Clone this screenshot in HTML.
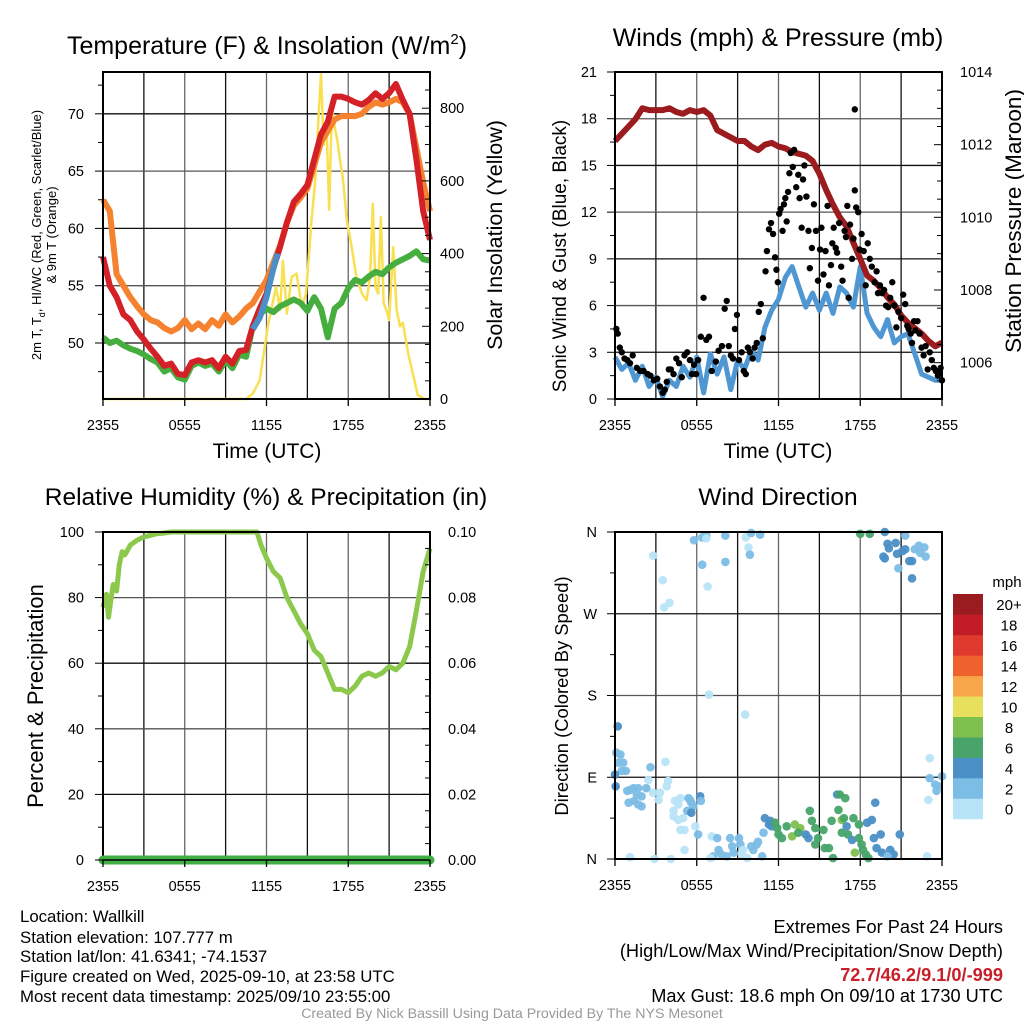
<!DOCTYPE html>
<html><head><meta charset="utf-8">
<style>
html,body{margin:0;padding:0;background:#fff;}
svg{display:block;font-family:"Liberation Sans",Arial,sans-serif;}
</style></head>
<body>
<svg id="fig" width="1024" height="1024" viewBox="0 0 1024 1024" xmlns="http://www.w3.org/2000/svg"></svg>
<script>
// ---------- DATA ----------
const halfHours = [0,0.5,1,1.5,2,2.5,3,3.5,4,4.5,5,5.5,6,6.5,7,7.5,8,8.5,9,9.5,10,10.5,11,11.5,12,12.5,13,13.5,14,14.5,15,15.5,16,16.5,17,17.5,18,18.5,19,19.5,20,20.5,21,21.5,22,22.5,23,23.5,24];
const temp2m = [57.5,55,54,52.5,52,51,50.3,49.5,48.8,48,48.2,47.3,47.2,48.3,48.5,48.3,48.5,47.8,48.8,48.2,49.3,49.4,51.5,53,54.3,56.5,58.4,60.5,62.3,63,63.8,66,68.2,69.3,71.5,71.5,71.3,71,70.8,71.2,71.8,71.3,71.8,72.6,71.2,70,66,61.5,59];
const temp9m = [62.5,61.5,56,55,54,53.2,52.5,52,51.8,51.3,51,51.3,52,51.2,51.7,51.2,52,51.5,52.5,51.8,52.3,53,53.5,54.5,55.5,57,58.5,60.5,62,62.7,63.5,65.5,67.5,68.5,69.5,69.8,69.8,69.8,70,70.6,71,70.8,71,71.3,71,70,67,64,61.5];
const dewpoint = [50.5,50,50.2,49.8,49.5,49.3,49,48.6,48.3,47.5,47.8,47,46.8,48,48.3,48,48.2,47.5,48.5,47.8,49,48.8,51.5,52.5,53,52.7,53.2,53.5,53.8,53.5,52.8,54,53,50.5,53,53.5,54.8,55.5,55.3,55.8,56.2,56,56.6,57,57.3,57.6,58,57.3,57.2];
const hiwcHours = [11,11.5,12,12.5,12.8];
const hiwcValues = [51.2,52.2,54,56.5,57.8];
const solarHours = [0,10.5,11,11.5,11.9,12.1,12.5,12.7,13,13.2,13.5,13.85,14.2,14.6,14.9,15.3,15.6,15.8,16,16.2,16.4,16.6,16.8,17,17.2,17.4,17.6,17.9,18.25,18.6,19,19.35,19.6,19.8,20,20.2,20.4,20.6,20.8,21,21.3,21.55,21.8,22,22.4,22.8,23.1,23.6,24];
const solarValues = [0,0,15,52,150,200,272,308,245,380,235,336,345,253,290,490,610,765,895,700,765,520,800,750,710,655,610,490,418,336,290,272,336,537,308,290,500,263,245,217,418,245,200,210,125,60,11,0,0];
const windSpeed = [2.7,1.9,2.3,1.2,2.1,0.8,1.4,0.15,1.2,0.8,2.1,1.4,2.7,0.4,2.9,1.6,2.7,0.6,2.5,1.9,3.1,2.5,4.6,5.7,6.4,7.8,8.5,7.2,5.9,6.8,5.7,6.8,5.5,7.2,6.8,5.9,8.5,5.5,4.6,4.0,5.1,3.6,4.0,4.2,2.9,1.6,1.4,1.2,1.2];
const pressure = [1012.1,1012.3,1012.5,1012.7,1013.0,1012.95,1012.95,1012.95,1013.0,1012.9,1012.85,1012.95,1012.9,1012.95,1012.8,1012.4,1012.3,1012.2,1012.1,1012.1,1011.95,1011.85,1012.0,1012.05,1011.95,1011.9,1011.8,1011.75,1011.7,1011.55,1011.2,1010.75,1010.35,1010.0,1009.75,1009.3,1008.85,1008.4,1008.25,1008.05,1007.8,1007.6,1007.3,1007.1,1006.95,1006.8,1006.6,1006.45,1006.55];
const gustHours = [0.1,0.2,0.35,0.5,0.7,0.9,1.1,1.3,1.6,1.85,2.1,2.4,2.6,2.85,3.1,3.3,3.5,3.65,3.8,3.95,4.1,4.3,4.5,4.7,4.9,5.1,5.3,5.5,5.65,5.8,5.95,6.1,6.3,6.5,6.7,6.9,7.1,7.4,7.6,7.85,8.05,8.2,8.35,8.5,8.65,8.8,8.95,9.1,9.3,9.45,9.6,9.75,9.9,10.1,10.25,10.4,10.55,10.7,10.85,11.05,11.15,11.3,11.45,11.6,11.75,11.85,11.95,12.05,12.15,12.3,12.4,12.5,12.6,12.7,12.8,12.9,13.05,13.15,13.3,13.45,13.55,13.7,13.8,13.9,14.05,14.2,14.3,14.45,14.6,14.75,14.9,15.05,15.15,15.3,15.45,15.6,15.7,15.85,15.95,16.05,16.2,16.3,16.45,16.6,16.7,16.85,16.95,17.05,17.15,17.25,17.4,17.5,17.6,17.7,17.85,17.95,17.6,18.1,18.25,18.4,18.55,18.7,18.85,19.05,19.2,19.3,19.45,19.6,19.75,19.9,20.05,20.2,20.35,20.5,20.65,20.8,21.0,21.15,21.3,21.45,21.55,21.7,21.8,21.95,22.05,22.2,22.35,22.5,22.65,22.8,22.95,23.1,23.25,23.4,23.55,23.7,23.8,23.9,24.0];
const gustValues = [4.5,4.2,3.3,3.0,2.6,2.5,2.3,2.8,2.0,1.8,1.8,1.6,1.5,1.2,1.3,0.8,0.4,0.6,1.1,1.9,1.9,1.6,2.6,2.3,1.4,2.8,3.0,2.5,1.6,2.2,1.6,2.5,4.0,6.5,3.8,4.0,1.8,2.4,3.1,3.4,5.8,6.3,3.4,2.8,2.6,4.5,5.4,2.5,3.0,1.8,1.6,3.3,3.0,2.6,3.3,3.6,5.6,6.1,3.9,8.2,9.5,10.9,11.3,10.6,9.1,8.3,7.5,11.9,12.2,10.8,12.5,12.9,11.4,13.3,14.5,15.8,14.9,16.0,13.6,14.4,12.9,11.0,14.1,15.0,13.0,10.8,8.4,9.7,12.5,10.8,7.6,9.6,11.0,8.0,9.5,12.4,7.3,8.6,10.0,11.0,9.7,9.4,11.3,8.5,7.6,10.8,10.4,12.4,6.5,11.2,9.0,10.3,13.4,12.3,12.0,9.6,18.6,10.6,9.5,7.3,10.0,9.0,8.5,7.5,8.2,6.8,7.3,6.8,7.0,6.0,5.9,6.5,7.5,6.0,4.6,5.6,5.2,6.7,6.1,4.7,4.5,4.2,3.6,5.0,4.4,5.0,4.2,3.3,2.8,3.4,1.9,3.0,2.5,2.0,1.8,1.5,1.7,2.0,1.2];
const rhHours = [0,0.25,0.4,0.6,0.75,1,1.2,1.4,1.6,2,2.5,3,3.5,4,4.5,5,11,11.3,11.6,12,12.5,13,13.5,14,14.5,15,15.5,16,16.5,17,17.5,18,18.5,19,19.5,20,20.5,21,21.5,22,22.5,23,23.5,24];
const rhValues = [77,81,74,80,84,82,90,94,93,96,97.5,98.5,99,99.5,99.7,100,100,100,96,92,88,86,80,76,72,69,64,62,57,52,52,51,53,56,57,56,57,59,58,60,65,76,88,95];
const precipHours = [0,24];
const precipValues = [0,0];
const dirHours = [2.8,3.5,4.0,3.6,5.8,6.4,6.7,6.7,6.4,6.8,8.1,8.1,9.6,10.0,10.65,9.8,9.9,18.0,18.7,19.8,20.0,20.6,20.7,19.8,19.7,20.1,21.1,21.3,21.6,21.8,21.8,20.8,22.3,22.4,22.7,22.8,22.0,21.3,6.9,9.55,0.2,0.1,0.4,0.25,0.6,0.5,0.8,0,0.05,0.9,1.1,1.35,1.7,1.6,1.95,1.4,1.0,1.7,1.95,2.3,2.6,2.45,2.8,3.3,3.2,3.7,3.9,3.8,4.4,4.8,4.65,4.3,4.3,4.65,5.0,4.8,5.1,5.3,5.5,5.4,5.6,5.75,5.6,6.25,6.3,5.9,6.1,5.1,7.1,7.5,7.6,7.2,7.0,7.8,8.2,8.45,8.6,8.7,9.1,9.2,9.4,9.3,9.7,10.0,10.15,10.4,10.5,10.8,10.9,1.1,2.9,4.1,11.0,11.4,11.3,11.5,11.75,11.9,12.0,12.25,12.6,13.0,13.2,13.6,13.45,14.0,14.2,14.3,14.45,14.7,14.7,14.9,15.3,15.4,15.7,15.9,16.0,16.3,16.5,16.9,16.4,16.65,16.8,16.65,17.0,17.1,17.4,17.5,17.6,17.9,17.9,18.1,18.2,18.4,18.6,18.5,18.85,19.1,19.0,19.5,19.2,19.6,20.2,20.45,20.0,20.9,22.9,23.0,23.1,23.1,23.5,23.75,23.6,24.0];
const dirDegrees = [334,307,282,277,351,354,356,353,324,300,356,327,354,359,357,343,335,358,358,360,347,348,336,331,333,342,339,356,328,328,309,320,345,337,343,333,341,341,181,159,146,117,115,106,106,97,97,93,80,75,76,78,78,71,69,64,62,60,58,78,101,87,73,73,65,107,86,80,64,67,60,53,47,43,45,32,32,53,65,67,62,58,51,69,64,36,27,10,25,23,10,3,1,5,3,23,14,7,23,16,10,5,1,14,10,16,19,3,29,2,0,0,45,42,38,36,40,34,27,23,36,25,38,34,29,27,23,53,42,34,16,23,32,12,12,42,1,71,71,67,54,43,45,29,36,27,21,45,7,38,23,16,10,5,1,40,43,62,23,27,12,7,10,5,3,27,3,65,111,89,82,80,75,91];
const dirSpeeds = [1,1,1,1,3,3,3,1,2.5,1,3,3,1,3,3,1,3,7,7,5,5,5,5,5,5,5,5,3,5,5,5,3,3,3,3,3,3,5,1,1,4.5,3,3,3,3,3,3,5,5,3,3,3,3,3,3,3,3,3,3,3,3,1,1,1,1,1,1,1,1,1,1,1,1,1,1,1,1,3,3,3,3,3,5,5,3,1,3,1,1,3,3,3,1,3,3,3,3,3,3,3,1,1,1,3,3,3,3,3,3,1,1,1,5,5,5,5,7,7,7,7,7,9,9,9,7,5,5,7,7,7,7,7,7,7,7,7,7,5,7,7,7,9,7,7,5,7,5,7,9,7,7,7,7,7,7,5,5,5,5,5,5,5,5,5,3,5,1,1,1,3,3,3,3,3];
const speedColors = ["#b8e4f8","#7cbde6","#4a8fc6","#48a46a","#7ec04e","#e6e05c","#f8a64a","#f0622d","#e03a2e","#c21d27","#9b1c20"];
const speedLabels = ["0","2","4","6","8","10","12","14","16","18","20+"];
const timeTickHours = [0,6,12,18,24];
const timeTickLabels = ["2355","0555","1155","1755","2355"];
const tempTicks = [50,55,60,65,70];
const solarTicks = [0,200,400,600,800];
const windTicks = [0,3,6,9,12,15,18,21];
const pressTicks = [1006,1008,1010,1012,1014];
const rhTicks = [0,20,40,60,80,100];
const precipTicks = [0,0.02,0.04,0.06,0.08,0.10];
const dirTickDeg = [0,90,180,270,360];
const dirTickLabels = ["N","E","S","W","N"];

// ---------- HELPERS ----------
const NS = "http://www.w3.org/2000/svg";
const svg = document.getElementById('fig');
function mk(tag, attrs, parent){
  const e = document.createElementNS(NS, tag);
  for (const k in attrs) e.setAttribute(k, attrs[k]);
  (parent||svg).appendChild(e);
  return e;
}
function lin(d0,d1,r0,r1){ return v => r0 + (v-d0)*(r1-r0)/(d1-d0); }
function txt(x,y,s,size,anchor,extra){
  const t = mk('text', Object.assign({x:x,y:y,'font-size':size,'text-anchor':anchor||'middle',fill:'#000'}, extra||{}));
  t.textContent = s;
  return t;
}
function pathFrom(xs, ys, sx, sy){
  let d='';
  for(let i=0;i<xs.length;i++){ d += (i?'L':'M') + sx(xs[i]).toFixed(1) + ',' + sy(ys[i]).toFixed(1); }
  return d;
}
function panelFrame(x0,x1,y0,y1){
  const g = mk('g',{});
  for(let h=3; h<24; h+=3){
    const X = x0 + (x1-x0)*h/24;
    mk('line',{x1:X,x2:X,y1:y0,y2:y1,stroke:(h%6===0)?'#666':'#111','stroke-width':1.3},g);
  }
  return g;
}
function hGrid(g, ys, x0, x1){
  ys.forEach((Y,i)=>mk('line',{x1:x0,x2:x1,y1:Y,y2:Y,stroke:(i%2)?'#555':'#111','stroke-width':1.3},g));
}
function border(x0,x1,y0,y1){
  mk('rect',{x:x0,y:y0,width:x1-x0,height:y1-y0,fill:'none',stroke:'#000','stroke-width':2});
}
function xTicks(sx, y1){
  timeTickHours.forEach((h,i)=>{
    mk('line',{x1:sx(h),x2:sx(h),y1:y1,y2:y1+7,stroke:'#000','stroke-width':1.3});
    const t = txt(sx(h), y1+31, timeTickLabels[i], 14.5);
    
    
  });
}

// ===== PANEL 1: Temperature =====
(function(){
  const x0=103,x1=430,y0=72,y1=399;
  const sx = lin(0,24,x0,x1);
  const sy = lin(50,70,343,113.8);
  const ss = lin(0,800,399,108.2);
  const g = panelFrame(x0,x1,y0,y1);
  
  
  hGrid(g, tempTicks.map(sy), x0, x1);
  const s = mk('path',{d:pathFrom(solarHours,solarValues,sx,ss),fill:'none',stroke:'#f8e050','stroke-width':2.5,'stroke-linejoin':'round'});
  
  
  const o = mk('path',{d:pathFrom(halfHours,temp9m,sx,sy),fill:'none',stroke:'#f5822e','stroke-width':6,'stroke-linejoin':'round'});
  
  
  const gr = mk('path',{d:pathFrom(halfHours,dewpoint,sx,sy),fill:'none',stroke:'#45ae3e','stroke-width':6,'stroke-linejoin':'round'});
  
  
  const r = mk('path',{d:pathFrom(halfHours,temp2m,sx,sy),fill:'none',stroke:'#d42127','stroke-width':6,'stroke-linejoin':'round'});
  
  
  const b = mk('path',{d:pathFrom(hiwcHours,hiwcValues,sx,sy),fill:'none',stroke:'#4a8fc6','stroke-width':6,'stroke-linejoin':'round'});
  
  
  border(x0,x1,y0,y1);
  for(let v=47.5; v<=72.5; v+=2.5){
    const major = tempTicks.indexOf(v)>=0;
    mk('line',{x1:x0-(major?8:5),x2:x0,y1:sy(v),y2:sy(v),stroke:'#000','stroke-width':1});
  }
  tempTicks.forEach(v=>{
    const t = txt(84, sy(v)+5, String(v), 14.5, 'end');
    
    
  });
  for(let v=0; v<=900; v+=50){
    const major = v%200===0;
    mk('line',{x1:x1,x2:x1+(major?-8:-5),y1:ss(v),y2:ss(v),stroke:'#000','stroke-width':1});
  }
  solarTicks.forEach(v=>{
    const t = txt(440, ss(v)+5, String(v), 14.5, 'start');
    
    
  });
  xTicks(sx,y1);
})();

// ===== PANEL 2: Winds =====
(function(){
  const x0=615,x1=942,y0=72,y1=399;
  const sx = lin(0,24,x0,x1);
  const sy = lin(0,21,399,72);
  const sp = lin(1005,1014,399,72);
  const g = panelFrame(x0,x1,y0,y1);
  
  
  hGrid(g, windTicks.slice(1,7).map(sy), x0, x1);
  const w = mk('path',{d:pathFrom(halfHours,windSpeed,sx,sy),fill:'none',stroke:'#4f97d2','stroke-width':5,'stroke-linejoin':'round'});
  
  
  const p = mk('path',{d:pathFrom(halfHours,pressure,sx,sp),fill:'none',stroke:'#9b1b1e','stroke-width':6,'stroke-linejoin':'round'});
  
  
  for(let i=0;i<gustHours.length;i++){
    const c = mk('circle',{cx:sx(gustHours[i]),cy:sy(gustValues[i]),r:3.2,fill:'#000'});
    
    
  }
  border(x0,x1,y0,y1);
  for(let v=0; v<=21; v+=1.5){
    const major = v%3===0;
    mk('line',{x1:x0-(major?8:5),x2:x0,y1:sy(v),y2:sy(v),stroke:'#000','stroke-width':1});
  }
  windTicks.forEach(v=>{
    const t = txt(597, sy(v)+5, String(v), 14.5, 'end');
    
    
  });
  for(let v=1005; v<=1014; v+=0.5){
    const major = v%2===0;
    mk('line',{x1:x1,x2:x1+(major?-8:-5),y1:sp(v),y2:sp(v),stroke:'#000','stroke-width':1});
  }
  pressTicks.forEach(v=>{
    const t = txt(960, sp(v)+5, String(v), 14.5, 'start');
    
    
  });
  xTicks(sx,y1);
})();

// ===== PANEL 3: Humidity =====
(function(){
  const x0=103,x1=430,y0=532,y1=860;
  const sx = lin(0,24,x0,x1);
  const sy = lin(0,100,860,532);
  const sq = lin(0,0.1,860,532);
  const g = panelFrame(x0,x1,y0,y1);
  
  
  hGrid(g, rhTicks.slice(1,5).map(sy), x0, x1);
  const h = mk('path',{d:pathFrom(rhHours,rhValues,sx,sy),fill:'none',stroke:'#8cc84c','stroke-width':5,'stroke-linejoin':'round'});
  
  
  border(x0,x1,y0,y1);
  const pr = mk('path',{d:pathFrom(precipHours,precipValues,sx,sq),fill:'none',stroke:'#3fae45','stroke-width':9,'stroke-linecap':'round'});
  
  
  mk('line',{x1:x0,x2:x1,y1:y1,y2:y1,stroke:'#000','stroke-width':1.5});
  for(let v=0; v<=100; v+=10){
    const major = v%20===0;
    mk('line',{x1:x0-(major?8:5),x2:x0,y1:sy(v),y2:sy(v),stroke:'#000','stroke-width':1});
  }
  rhTicks.forEach(v=>{
    const t = txt(84, sy(v)+5, String(v), 14.5, 'end');
    
    
  });
  for(let v=0; v<=0.1001; v+=0.005){
    const major = Math.abs((v*100)%2)<0.01 || Math.abs((v*100)%2-2)<0.01;
    mk('line',{x1:x1,x2:x1+(major?-8:-5),y1:sq(v),y2:sq(v),stroke:'#000','stroke-width':1});
  }
  precipTicks.forEach(v=>{
    const t = txt(448, sq(v)+5, v.toFixed(2), 14.5, 'start');
    
    
  });
  xTicks(sx,y1);
})();

// ===== PANEL 4: Wind direction =====
(function(){
  const x0=615,x1=942,y0=532,y1=859;
  const sx = lin(0,24,x0,x1);
  const sy = lin(0,360,859,532);
  const g = panelFrame(x0,x1,y0,y1);
  
  
  hGrid(g, [90,180,270].map(sy), x0, x1);
  for(let i=0;i<dirHours.length;i++){
    const ci = Math.min(10, Math.floor(dirSpeeds[i]/2));
    const c = mk('circle',{cx:sx(dirHours[i]),cy:sy(dirDegrees[i]),r:4.3,fill:speedColors[ci],'fill-opacity':0.95});
    
    
  }
  border(x0,x1,y0,y1);
  for(let v=0; v<=360; v+=45){
    const major = v%90===0;
    mk('line',{x1:x0-(major?8:5),x2:x0,y1:sy(v),y2:sy(v),stroke:'#000','stroke-width':1});
  }
  dirTickDeg.forEach((v,i)=>{
    const t = txt(597, sy(v)+5, dirTickLabels[i], 14.5, 'end');
    
    
  });
  xTicks(sx,y1);
  const cb = mk('g',{});
  
  
  const bTop=594, bH=20.45;
  for(let i=0;i<11;i++){
    const yy = bTop + (10-i)*bH;
    mk('rect',{x:953,y:yy,width:30,height:bH+0.3,fill:speedColors[i]},cb);
    const t = txt(1009, yy+bH/2+6, speedLabels[i], 15, 'middle');
    
    
  }
  const u = txt(1007, 587, 'mph', 15, 'middle');
  
  
})();
</script>

<svg width="1024" height="1024" viewBox="0 0 1024 1024" style="position:absolute;left:0;top:0;font-family:'Liberation Sans',Arial,sans-serif;" xmlns="http://www.w3.org/2000/svg">
  <text x="267" y="54" font-size="25" text-anchor="middle">Temperature (F) &amp; Insolation (W/m<tspan dy="-10" font-size="15">2</tspan><tspan dy="10">)</tspan></text>
  <text x="778" y="46" font-size="25" text-anchor="middle">Winds (mph) &amp; Pressure (mb)</text>
  <text x="266" y="505" font-size="24.5" text-anchor="middle">Relative Humidity (%) &amp; Precipitation (in)</text>
  <text x="778" y="505" font-size="24.5" text-anchor="middle">Wind Direction</text>

  <text x="267" y="458" font-size="21" text-anchor="middle">Time (UTC)</text>
  <text x="778" y="458" font-size="21" text-anchor="middle">Time (UTC)</text>

  <text transform="translate(41,235) rotate(-90)" font-size="13" text-anchor="middle">2m T, T<tspan dy="4" font-size="9">d</tspan><tspan dy="-4">, HI/WC (Red, Green, Scarlet/Blue)</tspan></text>
  <text transform="translate(56,235) rotate(-90)" font-size="13" text-anchor="middle">&amp; 9m T (Orange)</text>
  <text transform="translate(502,235) rotate(-90)" font-size="21.5" text-anchor="middle">Solar Insolation (Yellow)</text>
  <text transform="translate(566,256) rotate(-90)" font-size="19" text-anchor="middle">Sonic Wind &amp; Gust (Blue, Black)</text>
  <text transform="translate(1021,221) rotate(-90)" font-size="22.5" text-anchor="middle">Station Pressure (Maroon)</text>
  <text transform="translate(43,696) rotate(-90)" font-size="22" text-anchor="middle">Percent &amp; Precipitation</text>
  <text transform="translate(568,696) rotate(-90)" font-size="18.4" text-anchor="middle">Direction (Colored By Speed)</text>

  <g font-size="16.8">
    <text x="20" y="922">Location: Wallkill</text>
    <text x="20" y="943">Station elevation: 107.777 m</text>
    <text x="20" y="962">Station lat/lon: 41.6341; -74.1537</text>
    <text x="20" y="982">Figure created on Wed, 2025-09-10, at 23:58 UTC</text>
    <text x="20" y="1002">Most recent data timestamp: 2025/09/10 23:55:00</text>
  </g>
  <g font-size="18.2" text-anchor="end">
    <text x="1003" y="933">Extremes For Past 24 Hours</text>
    <text x="1003" y="957">(High/Low/Max Wind/Precipitation/Snow Depth)</text>
    <text x="1003" y="981" fill="#c8202a" font-weight="bold">72.7/46.2/9.1/0/-999</text>
    <text x="1003" y="1002">Max Gust: 18.6 mph On 09/10 at 1730 UTC</text>
  </g>
  <text x="512" y="1018" font-size="14.2" fill="#999" text-anchor="middle">Created By Nick Bassill Using Data Provided By The NYS Mesonet</text>
</svg>
</body></html>
